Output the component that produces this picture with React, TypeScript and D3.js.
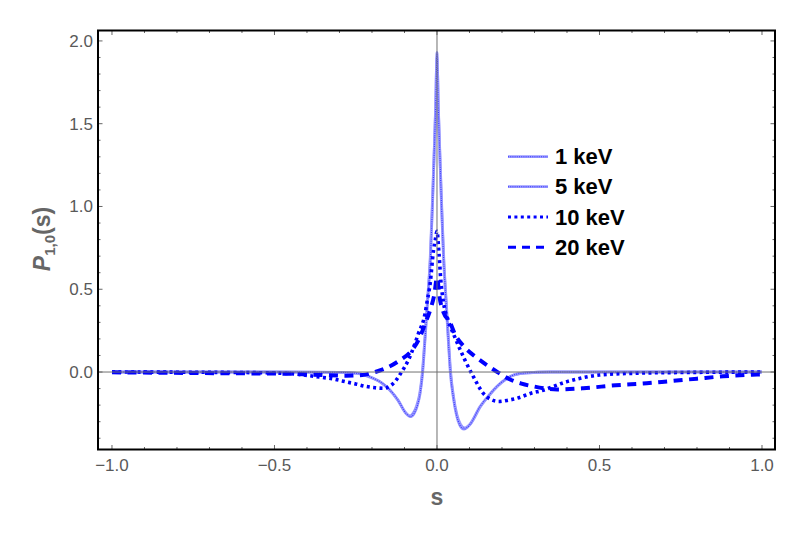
import React from "react";
import * as d3 from "d3";

// ---- data ----
const s1keV = [-1.0, -0.5, -0.3, -0.247, -0.22, -0.196, -0.17, -0.145, -0.12, -0.095, -0.081, -0.07, -0.06, -0.052, -0.044, -0.036, -0.028, -0.02, -0.014, -0.009, -0.004, 0, 0.004, 0.009, 0.014, 0.02, 0.027, 0.034, 0.041, 0.05, 0.06, 0.07, 0.083, 0.1, 0.132, 0.16, 0.184, 0.21, 0.235, 0.27, 0.35, 0.6, 1.0];
const p1keV = [0, 0, -0.002, -0.008, -0.018, -0.038, -0.065, -0.108, -0.17, -0.25, -0.27, -0.25, -0.2, -0.13, 0, 0.22, 0.45, 0.7, 1.0, 1.3, 1.6, 1.93, 1.6, 1.3, 1.0, 0.7, 0.45, 0.22, 0, -0.15, -0.26, -0.32, -0.345, -0.32, -0.21, -0.14, -0.088, -0.045, -0.018, -0.006, 0, 0, 0];

const s5keV = [-1.0, -0.5, -0.3, -0.25, -0.225, -0.2, -0.173, -0.148, -0.122, -0.097, -0.083, -0.072, -0.062, -0.053, -0.045, -0.037, -0.029, -0.021, -0.015, -0.0095, -0.0045, 0, 0.0045, 0.0095, 0.015, 0.021, 0.028, 0.035, 0.042, 0.051, 0.061, 0.072, 0.085, 0.102, 0.135, 0.163, 0.187, 0.213, 0.238, 0.275, 0.35, 0.6, 1.0];
const p5keV = [0, 0, -0.002, -0.007, -0.017, -0.036, -0.062, -0.104, -0.165, -0.245, -0.265, -0.245, -0.2, -0.13, 0, 0.21, 0.44, 0.68, 0.98, 1.28, 1.58, 1.9, 1.58, 1.28, 0.98, 0.68, 0.44, 0.21, 0, -0.15, -0.255, -0.315, -0.338, -0.315, -0.205, -0.136, -0.085, -0.043, -0.017, -0.005, 0, 0, 0];

const s10keV = [-1.0, -0.6, -0.47, -0.37, -0.32, -0.278, -0.25, -0.216, -0.19, -0.165, -0.145, -0.128, -0.109, -0.088, -0.057, -0.037, -0.03, -0.021, -0.011, -0.005, 0, 0.006, 0.012, 0.02, 0.035, 0.055, 0.086, 0.112, 0.142, 0.165, 0.19, 0.22, 0.245, 0.295, 0.317, 0.4, 0.5, 0.6, 0.75, 1.0];
const p10keV = [0, -0.003, -0.008, -0.028, -0.042, -0.06, -0.072, -0.088, -0.095, -0.098, -0.085, -0.055, 0, 0.072, 0.233, 0.35, 0.43, 0.535, 0.73, 0.8, 0.85, 0.72, 0.55, 0.42, 0.31, 0.21, 0.072, -0.028, -0.128, -0.165, -0.178, -0.17, -0.159, -0.125, -0.115, -0.058, -0.018, -0.008, -0.003, 0];

const s20keV = [-1.0, -0.6, -0.47, -0.35, -0.28, -0.23, -0.19, -0.155, -0.115, -0.078, -0.055, -0.037, -0.02, -0.008, 0, 0.008, 0.02, 0.04, 0.055, 0.085, 0.12, 0.155, 0.19, 0.225, 0.26, 0.3, 0.37, 0.45, 0.55, 0.645, 0.717, 0.8, 0.88, 0.97, 1.0];
const p20keV = [-0.002, -0.008, -0.01, -0.018, -0.022, -0.018, 0.0, 0.025, 0.07, 0.13, 0.2, 0.29, 0.38, 0.47, 0.57, 0.45, 0.36, 0.3, 0.23, 0.15, 0.09, 0.04, -0.005, -0.045, -0.07, -0.088, -0.105, -0.098, -0.08, -0.068, -0.055, -0.04, -0.026, -0.016, -0.014];

const seriesLabels = ["1 keV", "5 keV", "10 keV", "20 keV"];
const xTickValues = [-1, -0.5, 0, 0.5, 1];
const xTickLabels = ["\u22121.0", "\u22120.5", "0.0", "0.5", "1.0"];
const yTickValues = [0, 0.5, 1, 1.5, 2];
const yTickLabels = ["0.0", "0.5", "1.0", "1.5", "2.0"];
const xMinorTicks = d3.range(-10, 11).map((i) => i / 10);
const yMinorTicks = d3.range(-4, 21).map((i) => i / 10);

const W = 803;
const H = 546;
const L = 98, R = 775, T = 30.5, B = 449.5;
const FONT = "'Liberation Sans', Arial, sans-serif";

export default function App() {
  const x = d3.scaleLinear().domain([-1.043, 1.04]).range([L, R]);
  const y = d3.scaleLinear().domain([-0.468, 2.063]).range([B, T]);
  const line = d3
    .line<[number, number]>()
    .x((d) => x(d[0]))
    .y((d) => y(d[1]))
    .curve(d3.curveMonotoneX);
  const zip = (s: number[], p: number[]) => s.map((v, i) => [v, p[i]] as [number, number]);

  const d1 = line(zip(s1keV, p1keV)) || "";
  const d5 = line(zip(s5keV, p5keV)) || "";
  const d10 = line(zip(s10keV, p10keV)) || "";
  const d20 = line(zip(s20keV, p20keV)) || "";

  const tickCol = "#666";
  const legX1 = 508, legX2 = 548;
  const legRows = [156.7, 186.7, 217, 247.3];

  const lightBase = { fill: "none", stroke: "#9a9aff", strokeWidth: 2.8 } as const;
  const lightOver = { fill: "none", stroke: "#3a3aff", strokeWidth: 1.1, strokeDasharray: "1,1.2" } as const;
  const dotStyle = { fill: "none", stroke: "#0000ff", strokeWidth: 3.6, strokeDasharray: "3,3.4" } as const;
  const dashStyle = { fill: "none", stroke: "#0000ff", strokeWidth: 4, strokeDasharray: "9,6.5" } as const;

  return (
    <svg width={W} height={H} style={{ position: "absolute", left: 0, top: 0, background: "#fff" }}>
      <defs>
        <clipPath id="plotclip">
          <rect x={L} y={T} width={R - L} height={B - T} />
        </clipPath>
      </defs>
      <rect x={0} y={0} width={W} height={H} fill="#fff" />

      {/* curves */}
      <g clipPath="url(#plotclip)">
        <path d={d5} {...lightBase} />
        <path d={d5} {...lightOver} />
        <path d={d1} {...lightBase} />
        <path d={d1} {...lightOver} />
        <path d={d10} {...dotStyle} />
        <path d={d20} {...dashStyle} />
        {/* zero axes */}
        <line x1={L} x2={R} y1={y(0)} y2={y(0)} stroke="#707070" strokeWidth={1} />
        <line x1={x(0)} x2={x(0)} y1={T} y2={B} stroke="#707070" strokeWidth={1} />
      </g>

      {/* ticks */}
      <g stroke={tickCol} strokeWidth={1}>
        {xMinorTicks.map((v) => {
          const major = xTickValues.some((m) => Math.abs(m - v) < 1e-9);
          const len = major ? 4.5 : 2.5;
          return (
            <g key={"xt" + v}>
              <line x1={x(v)} x2={x(v)} y1={B} y2={B - len} />
              <line x1={x(v)} x2={x(v)} y1={T} y2={T + len} />
            </g>
          );
        })}
        {yMinorTicks.map((v) => {
          const major = yTickValues.some((m) => Math.abs(m - v) < 1e-9);
          const len = major ? 4.5 : 2.5;
          return (
            <g key={"yt" + v}>
              <line x1={L} x2={L + len} y1={y(v)} y2={y(v)} />
              <line x1={R} x2={R - len} y1={y(v)} y2={y(v)} />
            </g>
          );
        })}
      </g>

      {/* frame */}
      <rect x={L} y={T} width={R - L} height={B - T} fill="none" stroke="#000" strokeWidth={2} />

      {/* tick labels */}
      <g fill="#595959" fontFamily={FONT} fontSize={17}>
        {xTickValues.map((v, i) => (
          <text key={"xl" + v} x={x(v)} y={471} textAnchor="middle">
            {xTickLabels[i]}
          </text>
        ))}
        {yTickValues.map((v, i) => (
          <text key={"yl" + v} x={93} y={y(v) + 6} textAnchor="end">
            {yTickLabels[i]}
          </text>
        ))}
      </g>

      {/* axis labels */}
      <text x={x(0)} y={505} textAnchor="middle" fontFamily={FONT} fontSize={23} fontWeight="bold" fill="#666">
        s
      </text>
      <text
        transform={`translate(50, 239) rotate(-90)`}
        textAnchor="middle"
        fontFamily={FONT}
        fontWeight="bold"
        fill="#666"
        fontSize={23}
      >
        <tspan fontStyle="italic">P</tspan>
        <tspan fontSize={15} dy={5}>1,0</tspan>
        <tspan dy={-5}>(s)</tspan>
      </text>

      {/* legend */}
      <g>
        <line x1={legX1} x2={legX2} y1={legRows[0]} y2={legRows[0]} {...lightBase} />
        <line x1={legX1} x2={legX2} y1={legRows[0]} y2={legRows[0]} {...lightOver} />
        <line x1={legX1} x2={legX2} y1={legRows[1]} y2={legRows[1]} {...lightBase} />
        <line x1={legX1} x2={legX2} y1={legRows[1]} y2={legRows[1]} {...lightOver} />
        <line x1={legX1} x2={legX2} y1={legRows[2]} y2={legRows[2]} {...dotStyle} strokeWidth={3} />
        <line x1={legX1} x2={legX2 - 2} y1={legRows[3]} y2={legRows[3]} {...dashStyle} strokeWidth={3} strokeDasharray="8,6" />
        {seriesLabels.map((lab, i) => (
          <text key={lab} x={555} y={legRows[i] + 7.5} fontFamily={FONT} fontSize={22} fontWeight="bold" fill="#000">
            {lab}
          </text>
        ))}
      </g>
    </svg>
  );
}
